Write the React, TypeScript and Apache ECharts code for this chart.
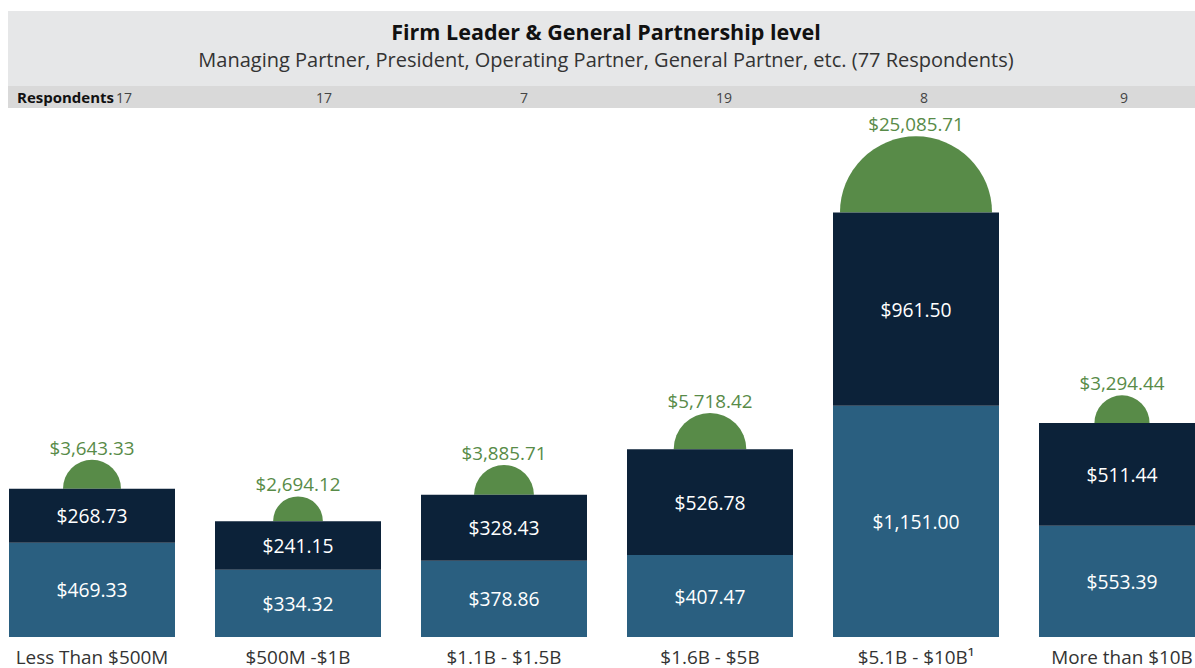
import React, { useEffect, useRef } from "react";
import * as echarts from "echarts";

const categories = ["Less Than $500M", "$500M -$1B", "$1.1B - $1.5B", "$1.6B - $5B", "$5.1B - $10B\u00B9", "More than $10B"];
const baseValues = [469.33, 334.32, 378.86, 407.47, 1151.0, 553.39];
const topValues = [268.73, 241.15, 328.43, 526.78, 961.5, 511.44];
const circleValues = [3643.33, 2694.12, 3885.71, 5718.42, 25085.71, 3294.44];
const respondents = [17, 17, 7, 19, 8, 9];

const TITLE = "Firm Leader & General Partnership level";
const SUBTITLE = "Managing Partner, President, Operating Partner, General Partner, etc. (77 Respondents)";

const FONT = "'Open Sans', 'Noto Sans', sans-serif";
const LIGHT = "#2a5f80";
const DARK = "#0c2239";
const GREEN = "#588b48";
const OFF = 11; // chart canvas starts 11px left of the page

const fmt = (v: number) =>
  "$" + v.toLocaleString("en-US", { minimumFractionDigits: 2, maximumFractionDigits: 2 });

export default function App() {
  const ref = useRef<HTMLDivElement>(null);
  useEffect(() => {
    if (!ref.current) return;
    const chart = echarts.init(ref.current, null, { renderer: "svg" });
    const circleData = categories.map((_, i) => [i, baseValues[i] + topValues[i], circleValues[i]]);
    const respTexts: any[] = respondents.map((r, i) => ({
      type: "text",
      x: OFF + 124 + i * 200,
      y: 97,
      style: {
        text: String(r),
        fill: "#444",
        font: `14px ${FONT}`,
        textAlign: "center",
        textVerticalAlign: "middle",
      },
    }));
    chart.setOption({
      animation: false,
      graphic: [
        { type: "rect", shape: { x: OFF + 8, y: 11, width: 1220, height: 75 }, style: { fill: "#e6e7e8" }, z: -10 },
        { type: "rect", shape: { x: OFF + 8, y: 86, width: 1220, height: 22 }, style: { fill: "#d9d9d9" }, z: -10 },
        {
          type: "text", x: OFF + 606, y: 31,
          style: { text: TITLE, fill: "#111", font: `bold 21.5px ${FONT}`, textAlign: "center", textVerticalAlign: "middle" },
        },
        {
          type: "text", x: OFF + 606, y: 59,
          style: { text: SUBTITLE, fill: "#333", font: `20px ${FONT}`, textAlign: "center", textVerticalAlign: "middle" },
        },
        {
          type: "text", x: OFF + 17, y: 97,
          style: { text: "Respondents", fill: "#111", font: `bold 15px ${FONT}`, textAlign: "left", textVerticalAlign: "middle" },
        },
        ...respTexts,
      ],
      grid: { left: 0, right: 0, top: 134.5, bottom: 31, containLabel: false },
      xAxis: {
        type: "category",
        data: categories,
        axisLine: { show: false },
        axisTick: { show: false },
        axisLabel: { color: "#333", fontSize: 18.9, fontFamily: FONT, margin: 10, interval: 0 },
      },
      yAxis: { type: "value", min: 0, max: 2500, show: false, splitLine: { show: false } },
      series: [
        {
          type: "bar", stack: "t", data: baseValues, barWidth: 166,
          itemStyle: { color: LIGHT },
          label: { show: true, position: "inside", color: "#fff", fontSize: 19.3, fontFamily: FONT, formatter: (p: any) => fmt(p.value) },
        },
        {
          type: "bar", stack: "t", data: topValues, barWidth: 166,
          itemStyle: { color: DARK },
          label: { show: true, position: "inside", color: "#fff", fontSize: 19.3, fontFamily: FONT, formatter: (p: any) => fmt(p.value) },
        },
        {
          type: "custom",
          data: circleData,
          z: 1,
          renderItem: (params: any, api: any) => {
            const pt = api.coord([api.value(0), api.value(1)]);
            const r = 0.48 * Math.sqrt(api.value(2));
            return {
              type: "group",
              children: [
                {
                  type: "sector",
                  shape: { cx: pt[0], cy: pt[1], r0: 0, r, startAngle: Math.PI, endAngle: 2 * Math.PI, clockwise: true },
                  style: { fill: GREEN },
                },
                {
                  type: "text",
                  x: pt[0],
                  y: pt[1] - r - 12,
                  style: { text: fmt(api.value(2)), fill: GREEN, font: `18.8px ${FONT}`, textAlign: "center", textVerticalAlign: "middle" },
                },
              ],
            };
          },
        },
      ],
    });
    return () => chart.dispose();
  }, []);
  return (
    <div style={{ position: "absolute", left: 0, top: 0, width: 1195, height: 668, overflow: "hidden" }}>
      <div ref={ref} style={{ position: "absolute", left: -OFF, top: 0, width: 1236, height: 668 }} />
    </div>
  );
}
